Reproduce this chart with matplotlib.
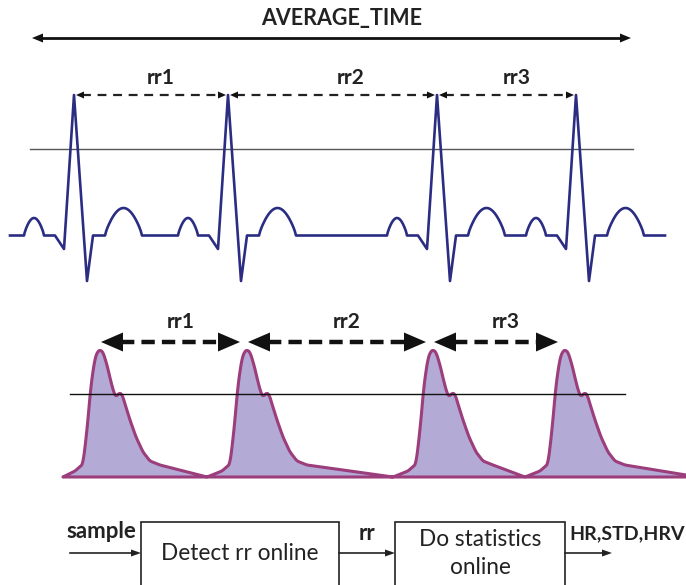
import numpy as np
import matplotlib.pyplot as plt
from matplotlib.patches import Rectangle

plt.rcParams['font.family'] = ['Lato', 'DejaVu Sans']

# 坐标单位：像素（y 向下）
# ECG 波形：R 峰位置 + 单个心拍模板 (相对 R 峰的偏移, y)
ecg_r_peaks = [74, 228, 437, 576]
ecg_base = 235.5
ecg_start, ecg_end = 10, 665
ecg_tpl_dx = [-19, -10, 0, 13, 19, 31]
ecg_tpl_y = [235.5, 249, 95, 281, 235.5, 235.5]
p_wave = (-50, -30, 218)    # 起点, 终点, 峰值 y
t_wave = (31, 68, 208)
ecg_threshold = (30, 633, 148.5)
ecg_rr_y = 95
ecg_rr_labels = ['rr1', 'rr2', 'rr3']

# PPG 波形：峰位置 + 单个脉搏模板
ppg_peaks = [100, 247, 433, 565]
ppg_base = 477
ppg_start, ppg_end = 63, 686
ppg_tpl_dx = [-40, -25, -17, -13, -9, -5, -2, 0, 3, 7, 11, 14, 16, 19, 22, 25, 30, 36, 43, 50, 60]
ppg_tpl_y = [477, 471, 464, 430, 385, 358, 351, 350, 352, 365, 382, 393, 397, 393, 394, 404, 420, 437, 452, 461, 465]
ppg_threshold = (70, 625, 394)
ppg_rr_y = 342
ppg_rr_labels = ['rr1', 'rr2', 'rr3']

avg_arrow = (32, 631, 38)

# 流程框图
boxes = [(141, 522, 198, 64, ['Detect rr online']),
         (395, 522, 170, 64, ['Do statistics', 'online'])]
flow_y = 553
flow_labels = ['sample', 'rr', 'HR,STD,HRV']

ecg_color = '#2B2D83'
ppg_edge = '#9C3D7C'
ppg_fill = '#B4AAD6'
txt_color = '#222222'

fig = plt.figure(figsize=(6.86, 5.85), dpi=100)
ax = fig.add_axes([0, 0, 1, 1])
ax.set_xlim(0, 686)
ax.set_ylim(585, 0)
ax.axis('off')


def bump(x0, x1, yp, n=30):
    t = np.linspace(0, 1, n)
    xs = x0 + (x1 - x0) * t
    ys = ecg_base - (ecg_base - yp) * np.sin(np.pi * t) ** 0.8
    return list(xs), list(ys)


# ---- ECG ----
ex, ey = [ecg_start], [ecg_base]
for r in ecg_r_peaks:
    bx, by = bump(r + p_wave[0], r + p_wave[1], p_wave[2])
    ex += bx; ey += by
    ex += [r + d for d in ecg_tpl_dx]; ey += ecg_tpl_y
    bx, by = bump(r + t_wave[0], r + t_wave[1], t_wave[2])
    ex += bx; ey += by
ex.append(ecg_end); ey.append(ecg_base)
ax.plot(ex, ey, color=ecg_color, lw=1.9, solid_joinstyle='round', zorder=3)

ax.plot(ecg_threshold[:2], [ecg_threshold[2]] * 2, color='#555555', lw=1.0, zorder=2)


def head(tip, y, direction, length, width, color='#111111'):
    ax.fill([tip, tip - direction * length, tip - direction * length],
            [y, y - width / 2, y + width / 2], color=color, lw=0, zorder=5)


for i, lab in enumerate(ecg_rr_labels):
    a, b = ecg_r_peaks[i] + 2, ecg_r_peaks[i + 1] - 2
    ax.plot([a + 6, b - 6], [ecg_rr_y] * 2, color='#222222', lw=1.6, dashes=(4, 3), zorder=4)
    head(a, ecg_rr_y, -1, 8, 7)
    head(b, ecg_rr_y, 1, 8, 7)
    ax.text((a + b) / 2 + (18 if i == 1 else 10), ecg_rr_y - 17, lab, ha='center', va='center',
            fontsize=15, fontweight='bold', color=txt_color)

# AVERAGE_TIME
x0, x1, ya = avg_arrow
ax.plot([x0 + 8, x1 - 8], [ya, ya], color='#111111', lw=2.0, zorder=4)
head(x0, ya, -1, 11, 9)
head(x1, ya, 1, 11, 9)
ax.text(342, 18, 'AVERAGE_TIME', ha='center', va='center', fontsize=15.5,
        fontweight='bold', color=txt_color)

# ---- PPG ----（先插值到细网格，再做轻度平滑）
px, py = [ppg_start], [ppg_base]
for p in ppg_peaks:
    for d, y in zip(ppg_tpl_dx, ppg_tpl_y):
        if p + d > ppg_start:
            px.append(p + d); py.append(y)
px.append(ppg_end); py.append(475)
gx = np.arange(ppg_start, ppg_end + 0.5, 0.5)
gy = np.interp(gx, px, py)
k = np.ones(7) / 7
gy_s = np.convolve(np.pad(gy, 3, mode='edge'), k, mode='valid')
ax.fill(list(gx) + [ppg_end, ppg_start], list(gy_s) + [ppg_base, ppg_base], facecolor=ppg_fill,
        edgecolor=ppg_edge, lw=2.2, joinstyle='round', zorder=3)

ax.plot(ppg_threshold[:2], [ppg_threshold[2]] * 2, color='#111111', lw=1.0, zorder=4)

for i, lab in enumerate(ppg_rr_labels):
    a, b = ppg_peaks[i] + 1, ppg_peaks[i + 1] - 7
    ax.plot([a + 20, b - 20], [ppg_rr_y] * 2, color='#111111', lw=3.2, dashes=(3, 1.6), zorder=4)
    head(a, ppg_rr_y, -1, 22, 19)
    head(b, ppg_rr_y, 1, 22, 19)
    ax.text((a + b) / 2 + 10, ppg_rr_y - 20, lab, ha='center', va='center',
            fontsize=15, fontweight='bold', color=txt_color)

# ---- 流程框图 ----
for bx, by, bw, bh, lines in boxes:
    ax.add_patch(Rectangle((bx, by), bw, bh, fill=False, edgecolor='#222222', lw=1.2, zorder=3))
    if len(lines) == 1:
        ax.text(bx + bw / 2, by + bh / 2, lines[0], ha='center', va='center',
                fontsize=16.3, color=txt_color)
    else:
        ax.text(bx + bw / 2, by + 18, lines[0], ha='center', va='center', fontsize=16.3, color=txt_color)
        ax.text(bx + bw / 2, by + 46, lines[1], ha='center', va='center', fontsize=16.3, color=txt_color)

arrows = [(70, boxes[0][0]), (boxes[0][0] + boxes[0][2], boxes[1][0]),
          (boxes[1][0] + boxes[1][2], 612)]
for a, b in arrows:
    ax.plot([a, b - 8], [flow_y, flow_y], color='#222222', lw=1.2, zorder=3)
    head(b, flow_y, 1, 10, 7, color='#222222')

ax.text(101, 532, flow_labels[0], ha='center', va='center', fontsize=16, fontweight='bold', color=txt_color)
ax.text(367, 534, flow_labels[1], ha='center', va='center', fontsize=16, fontweight='bold', color=txt_color)
ax.text(569, 534, flow_labels[2], ha='left', va='center', fontsize=14, fontweight='bold', color=txt_color)

fig.savefig('out.png', dpi=100)
